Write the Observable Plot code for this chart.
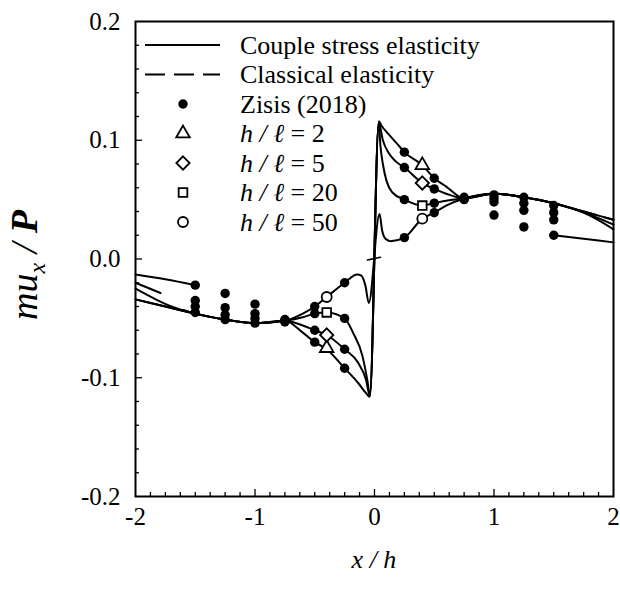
<!DOCTYPE html>
<html><head><meta charset="utf-8">
<script src="https://cdn.jsdelivr.net/npm/d3@7"></script>
<script src="https://cdn.jsdelivr.net/npm/@observablehq/plot@0.6"></script>
<style>body{margin:0;background:#fff}</style>
</head><body><div id="chart"></div>
<script>
// ---- data ----
const c2X = [-2, -1.75, -1.5, -1.25, -1, -0.75, -0.6, -0.5, -0.4, -0.25, -0.14, -0.07, -0.039, 0.036, 0.06, 0.11, 0.19, 0.25, 0.4, 0.5, 0.6, 0.75, 1, 1.25, 1.5, 1.75, 2];
const c2Y = [-0.034, -0.040, -0.046, -0.051, -0.054, -0.052, -0.062, -0.070, -0.076, -0.092, -0.104, -0.113, -0.116, 0.116, 0.112, 0.106, 0.097, 0.090, 0.079, 0.068, 0.061, 0.051, 0.055, 0.052, 0.047, 0.040, 0.033];

const c5X = [-2, -1.75, -1.5, -1.25, -1, -0.75, -0.6, -0.5, -0.4, -0.25, -0.14, -0.07, -0.039, 0.036, 0.07, 0.12, 0.18, 0.25, 0.4, 0.5, 0.6, 0.75, 1, 1.25, 1.5, 1.7, 2];
const c5Y = [-0.034, -0.040, -0.046, -0.051, -0.054, -0.052, -0.056, -0.060, -0.064, -0.076, -0.087, -0.102, -0.115, 0.115, 0.100, 0.089, 0.082, 0.077, 0.064, 0.059, 0.055, 0.051, 0.055, 0.052, 0.047, 0.041, 0.029];

const c20X = [-2, -1.85, -1.7, -1.5, -1.25, -1, -0.75, -0.6, -0.5, -0.4, -0.25, -0.18, -0.1, -0.06, -0.039, 0.036, 0.05, 0.07, 0.1, 0.15, 0.25, 0.4, 0.5, 0.6, 0.75, 1, 1.25, 1.5, 1.75, 1.85, 2];
const c20Y = [-0.025, -0.033, -0.040, -0.046, -0.051, -0.054, -0.052, -0.049, -0.046, -0.045, -0.050, -0.062, -0.082, -0.102, -0.114, 0.114, 0.095, 0.080, 0.066, 0.056, 0.050, 0.045, 0.047, 0.049, 0.051, 0.055, 0.052, 0.047, 0.039, 0.034, 0.025];

const c50X = [-2, -1.75, -1.5, -1.4, -1.25, -1, -0.75, -0.6, -0.5, -0.4, -0.25, -0.145, -0.11, -0.075, -0.048, 0.042, 0.064, 0.092, 0.134, 0.25, 0.4, 0.5, 0.6, 0.75, 1, 1.25, 1.4, 1.5, 1.75, 2];
const c50Y = [-0.013, -0.017, -0.022, NaN, -0.051, -0.054, -0.052, -0.046, -0.040, -0.032, -0.020, -0.013, -0.014, -0.023, -0.037, 0.038, 0.024, 0.017, 0.015, 0.018, 0.034, 0.039, 0.045, 0.051, 0.055, 0.052, NaN, 0.020, 0.017, 0.014];

const classicalX = [-2, -1.77, -1.7, -1.6, -1.5, -1.25, -1, -0.75, 0, 0.75, 1, 1.25, 1.5, 1.75, 2];
const classicalY = [-0.020, -0.0295, NaN, -0.043, -0.046, -0.051, -0.054, -0.052, NaN, 0.051, 0.055, 0.052, 0.047, 0.040, 0.033];
const classicalCoreX = [-0.06, 0, 0.05];
const classicalCoreY = [-0.0008, 0.0003, 0.0015];

const zisisX = [-1.5, -1.25, -1, -0.75, -0.5, -0.25, 0.25, 0.5, 0.75, 1, 1.25, 1.5];
const zisis2  = [-0.045, -0.051, -0.054, -0.053, -0.070, -0.092, 0.090, 0.068, 0.052, 0.054, 0.052, 0.045];
const zisis5  = [-0.040, -0.047, -0.050, -0.052, -0.060, -0.076, 0.077, 0.059, 0.051, 0.051, 0.047, 0.039];
const zisis20 = [-0.035, -0.041, -0.046, -0.052, -0.046, -0.050, 0.050, 0.047, 0.051, 0.048, 0.041, 0.033];
const zisis50 = [-0.022, -0.029, -0.038, -0.051, -0.040, -0.020, 0.018, 0.039, 0.050, 0.037, 0.027, 0.020];

const markerX = [-0.4, 0.4];
const triangleY = [-0.075, 0.079];
const diamondY = [-0.064, 0.064];
const squareY = [-0.045, 0.045];
const circleY = [-0.032, 0.034];

const xMinorTicks = [-1.875,-1.75,-1.625,-1.5,-1.375,-1.25,-1.125,-0.875,-0.75,-0.625,-0.5,-0.375,-0.25,-0.125,0.125,0.25,0.375,0.5,0.625,0.75,0.875,1.125,1.25,1.375,1.5,1.625,1.75,1.875];
const xMajorTicks = [-1, 0, 1];
const xTickLabels = [-2, -1, 0, 1, 2];
const yMinorTicks = [-0.18,-0.16,-0.14,-0.12,-0.08,-0.06,-0.04,-0.02,0.02,0.04,0.06,0.08,0.12,0.14,0.16,0.18];
const yMajorTicks = [-0.1, 0, 0.1];
const yTickLabels = [-0.2, -0.1, 0, 0.1, 0.2];

// ---- tables ----
const toRows = (xs, ys, s) => xs.map((x, i) => ({x, y: ys[i], s}));
const solid = [
  ...toRows(c2X, c2Y, "2"), ...toRows(c5X, c5Y, "5"),
  ...toRows(c20X, c20Y, "20"), ...toRows(c50X, c50Y, "50")
];
const classical = toRows(classicalX, classicalY, "c");
const classicalCore = toRows(classicalCoreX, classicalCoreY, "core");
const zisis = [
  ...toRows(zisisX, zisis2, "2"), ...toRows(zisisX, zisis5, "5"),
  ...toRows(zisisX, zisis20, "20"), ...toRows(zisisX, zisis50, "50")
];
const FONT = "'Liberation Serif', 'Times New Roman', serif";
const noText = () => "";

const chart = Plot.plot({
  width: 620, height: 591,
  marginLeft: 135, marginRight: 7, marginTop: 21, marginBottom: 95,
  x: {domain: [-2, 2]},
  y: {domain: [-0.2, 0.2]},
  style: {fontFamily: FONT, fontSize: "25px", background: "white", color: "black", overflow: "visible"},
  marks: [
    Plot.axisX(xMinorTicks, {tickSize: 4, dy: -4, tickFormat: noText, label: null, strokeWidth: 1.3}),
    Plot.axisX(xMajorTicks, {tickSize: 7, dy: -7, tickFormat: noText, label: null, strokeWidth: 1.3}),
    Plot.axisX(xTickLabels, {tickSize: 0, tickPadding: 11, tickFormat: d => String(d), label: null}),
    Plot.axisY(yMinorTicks, {tickSize: 4, dx: 4, tickFormat: noText, label: null, strokeWidth: 1.3}),
    Plot.axisY(yMajorTicks, {tickSize: 7, dx: 7, tickFormat: noText, label: null, strokeWidth: 1.3}),
    Plot.axisY(yTickLabels, {tickSize: 0, tickPadding: 15, tickFormat: d => d.toFixed(1), label: null}),
    Plot.line(classical, {x: "x", y: "y", z: "s", stroke: "black", strokeWidth: 2, strokeDasharray: "27,9", curve: "monotone-x"}),
    Plot.line(classicalCore, {x: "x", y: "y", stroke: "black", strokeWidth: 1.6, curve: "monotone-x"}),
    Plot.line(solid, {x: "x", y: "y", z: "s", stroke: "black", strokeWidth: 2, strokeLinejoin: "round", curve: "monotone-x"}),
    Plot.dot(zisis, {x: "x", y: "y", r: 4.7, fill: "black", stroke: null}),
    Plot.dot(markerX.map((x, i) => ({x, y: triangleY[i]})), {x: "x", y: "y", symbol: "triangle2", r: 6.5, fill: "white", stroke: "black", strokeWidth: 1.8}),
    Plot.dot(markerX.map((x, i) => ({x, y: diamondY[i]})), {x: "x", y: "y", symbol: "diamond2", r: 6, fill: "white", stroke: "black", strokeWidth: 1.8}),
    Plot.dot(markerX.map((x, i) => ({x, y: squareY[i]})), {x: "x", y: "y", symbol: "square2", r: 5.5, fill: "white", stroke: "black", strokeWidth: 1.8}),
    Plot.dot(markerX.map((x, i) => ({x, y: circleY[i]})), {x: "x", y: "y", symbol: "circle", r: 5, fill: "white", stroke: "black", strokeWidth: 1.8}),
    Plot.frame({stroke: "black", strokeWidth: 2})
  ]
});
document.getElementById("chart").appendChild(chart);

// ---- legend, axis titles ----
const svg = d3.select(chart);
const legend = svg.append("g").attr("font-family", FONT).attr("font-size", 26).attr("fill", "black").attr("text-anchor", "start");
const rows = [
  {kind: "solid", parts: [["Couple stress elasticity", false]]},
  {kind: "dashed", parts: [["Classical elasticity", false]]},
  {kind: "dot", parts: [["Zisis (2018)", false]]},
  {kind: d3.symbolTriangle2, r: 6.5, parts: [["h / ℓ", true], [" = 2", false]]},
  {kind: d3.symbolDiamond2, r: 6, parts: [["h / ℓ", true], [" = 5", false]]},
  {kind: d3.symbolSquare2, r: 5.5, parts: [["h / ℓ", true], [" = 20", false]]},
  {kind: "circle", parts: [["h / ℓ", true], [" = 50", false]]}
];
rows.forEach((row, i) => {
  const y = 45 + i * 29.5;
  if (row.kind === "solid" || row.kind === "dashed") {
    legend.append("line").attr("x1", 145).attr("x2", 220).attr("y1", y).attr("y2", y)
      .attr("stroke", "black").attr("stroke-width", 2)
      .attr("stroke-dasharray", row.kind === "dashed" ? "20,9" : null);
  } else if (row.kind === "dot") {
    legend.append("circle").attr("cx", 183).attr("cy", y).attr("r", 4.7).attr("fill", "black");
  } else if (row.kind === "circle") {
    legend.append("circle").attr("cx", 183).attr("cy", y).attr("r", 5).attr("fill", "white").attr("stroke", "black").attr("stroke-width", 1.8);
  } else {
    legend.append("path").attr("transform", `translate(183,${y})`)
      .attr("d", d3.symbol(row.kind, Math.PI * row.r * row.r)())
      .attr("fill", "white").attr("stroke", "black").attr("stroke-width", 1.8);
  }
  const t = legend.append("text").attr("x", 240).attr("y", y).attr("dy", "0.34em");
  row.parts.forEach(([s, it]) => t.append("tspan").attr("font-style", it ? "italic" : "normal").text(s));
});

svg.append("text").attr("x", 374).attr("y", 568).attr("text-anchor", "middle")
  .attr("font-family", FONT).attr("font-size", 26).attr("font-style", "italic").attr("fill", "black").text("x / h");

const yl = svg.append("text").attr("transform", "translate(37,265) rotate(-90)").attr("text-anchor", "middle")
  .attr("font-family", FONT).attr("font-size", 38).attr("font-style", "italic").attr("fill", "black");
yl.append("tspan").text("mu");
yl.append("tspan").attr("font-size", 24).attr("dy", 8).text("x");
yl.append("tspan").attr("dy", -8).text(" / ");
yl.append("tspan").attr("font-weight", "bold").text("P");
</script>
</body></html>
